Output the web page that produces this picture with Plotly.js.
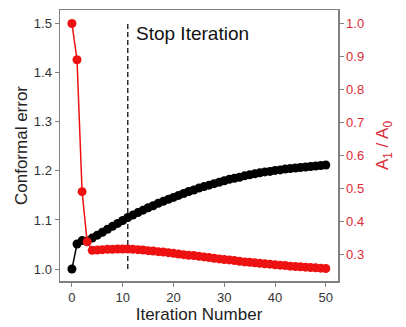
<!DOCTYPE html>
<html>
<head>
<meta charset="utf-8">
<script src="https://cdn.plot.ly/plotly-3.0.1.min.js"></script>
<style>html,body{margin:0;padding:0;background:#fff;}#chart{width:406px;height:327px;}</style>
</head>
<body>
<div id="chart"></div>
<script>
var iterations = [0,1,2,3,4,5,6,7,8,9,10,11,12,13,14,15,16,17,18,19,20,21,22,23,24,25,26,27,28,29,30,31,32,33,34,35,36,37,38,39,40,41,42,43,44,45,46,47,48,49,50];
var conformalError = [1.000,1.051,1.058,1.057,1.063,1.069,1.075,1.081,1.087,1.093,1.099,1.105,1.110,1.115,1.120,1.125,1.129,1.134,1.138,1.142,1.146,1.150,1.154,1.158,1.161,1.165,1.168,1.171,1.174,1.177,1.180,1.183,1.185,1.187,1.190,1.192,1.194,1.196,1.198,1.199,1.201,1.202,1.204,1.205,1.206,1.207,1.208,1.209,1.210,1.211,1.212];
var areaRatio = [1.000,0.890,0.490,0.338,0.312,0.313,0.314,0.315,0.315,0.316,0.316,0.316,0.315,0.314,0.313,0.311,0.310,0.308,0.307,0.305,0.303,0.301,0.299,0.297,0.296,0.294,0.292,0.290,0.288,0.286,0.284,0.283,0.281,0.279,0.277,0.276,0.274,0.273,0.271,0.270,0.268,0.267,0.266,0.264,0.263,0.262,0.261,0.260,0.259,0.258,0.257];
var stopX = [11, 11];
var stopY = [1.0, 1.5];
var stopLabel = 'Stop Iteration';
var xTicks = [0,10,20,30,40,50];
var yTicks = [1.0,1.1,1.2,1.3,1.4,1.5];
var y2Ticks = [0.3,0.4,0.5,0.6,0.7,0.8,0.9,1.0];

var RED = '#ee1111';
var AXRED = '#dc2b35';
var FRAME = '#808080';
var FONT = 'Liberation Sans, Arial, sans-serif';

var traces = [
  {x: stopX, y: stopY, mode: 'lines', yaxis: 'y', line: {color: '#111', width: 1.3, dash: '5px,3px'}, hoverinfo: 'skip', showlegend: false},
  {x: iterations, y: conformalError, mode: 'lines+markers', yaxis: 'y', line: {color: '#000', width: 1.5}, marker: {color: '#000', size: 9}, showlegend: false},
  {x: iterations, y: areaRatio, mode: 'lines+markers', yaxis: 'y2', line: {color: RED, width: 1.5}, marker: {color: RED, size: 9}, showlegend: false}
];

var layout = {
  width: 406, height: 327,
  margin: {l: 60, r: 68, t: 10, b: 46},
  paper_bgcolor: '#fff', plot_bgcolor: '#fff',
  font: {family: FONT, color: '#333'},
  xaxis: {
    range: [-2.35, 52.4], tickvals: xTicks, ticktext: xTicks.map(String),
    showgrid: false, zeroline: false, showline: true, linecolor: FRAME, linewidth: 1.5, mirror: true,
    ticks: 'outside', ticklen: 4, tickcolor: FRAME, tickwidth: 1,
    tickfont: {size: 13, color: '#333'},
    title: {text: 'Iteration Number', font: {size: 17, color: '#222'}, standoff: 3}
  },
  yaxis: {
    range: [0.9756, 1.528], tickvals: yTicks, ticktext: yTicks.map(function(v){return v.toFixed(1);}),
    showgrid: false, zeroline: false, showline: true, linecolor: FRAME, linewidth: 1.5, mirror: true,
    ticks: 'outside', ticklen: 4, tickcolor: FRAME, tickwidth: 1,
    tickfont: {size: 13, color: '#333'},
    title: {text: 'Conformal error', font: {size: 17, color: '#222'}, standoff: 2}
  },
  yaxis2: {
    overlaying: 'y', side: 'right',
    range: [0.219, 1.041], tickvals: y2Ticks, ticktext: y2Ticks.map(function(v){return v.toFixed(1);}),
    showgrid: false, zeroline: false, showline: true, linecolor: FRAME, linewidth: 1.5,
    ticks: 'outside', ticklen: 4, tickcolor: FRAME, tickwidth: 1,
    tickfont: {size: 13, color: AXRED},
    title: {text: 'A<sub>1</sub> / A<sub>0</sub>', font: {size: 17, color: AXRED}, standoff: 13}
  },
  annotations: [
    {x: stopX[0], y: stopY[1], xref: 'x', yref: 'y', text: stopLabel, showarrow: false,
     xanchor: 'left', yanchor: 'middle', xshift: 6, yshift: -10, font: {size: 19, color: '#111', family: FONT}}
  ]
};

Plotly.newPlot('chart', traces, layout, {displayModeBar: false, staticPlot: true});
</script>
</body>
</html>
